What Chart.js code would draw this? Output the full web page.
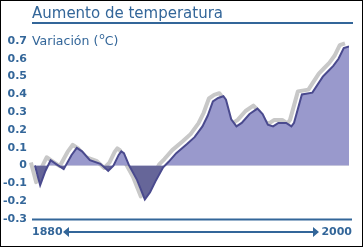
<!DOCTYPE html>
<html>
<head>
<meta charset="utf-8">
<script src="https://cdn.jsdelivr.net/npm/chart.js@4.4.1/dist/chart.umd.min.js"></script>
<style>
  html, body { margin: 0; padding: 0; background: #fff; }
  canvas { display: block; }
</style>
</head>
<body>
<canvas id="tempChart" width="363" height="247"></canvas>
<script>
// Temperature anomaly
const years = [1880, 1882, 1884, 1886, 1888, 1891, 1894, 1896, 1898, 1901, 1905, 1908, 1910, 1912, 1913, 1914,
  1916, 1919, 1922, 1924, 1926, 1929, 1931, 1934, 1938, 1941, 1944, 1946, 1948, 1950, 1952, 1953,
  1955, 1957, 1959, 1962, 1965, 1967, 1969, 1971, 1973, 1976, 1978, 1979, 1982, 1986, 1990, 1992,
  1994, 1996, 1998, 2000];
const anomaly = [0.00, -0.11, -0.03, 0.03, 0.01, -0.02, 0.06, 0.10, 0.08, 0.03, 0.01, -0.03, 0.00, 0.06, 0.08, 0.07,
  0.00, -0.08, -0.19, -0.15, -0.09, -0.01, 0.02, 0.07, 0.12, 0.16, 0.22, 0.28, 0.36, 0.38, 0.39, 0.37,
  0.26, 0.22, 0.24, 0.29, 0.32, 0.29, 0.23, 0.22, 0.24, 0.24, 0.22, 0.24, 0.40, 0.41, 0.50, 0.53,
  0.56, 0.60, 0.66, 0.67];
const yTicks = [-0.3, -0.2, -0.1, 0, 0.1, 0.2, 0.3, 0.4, 0.5, 0.6, 0.7];
const title = "Aumento de temperatura";
const yTitle = ["Variación (", "o", "C)"];
const rangeLabels = ["1880", "2000"];

const blue = "#336699";
const font = "DejaVu Sans";

// grey offset copy of the line, drawn under the fill
const shadow = {
  id: "shadow",
  beforeDatasetsDraw(chart) {
    const c = chart.ctx;
    const pts = chart.getDatasetMeta(0).data;
    c.save();
    c.translate(-4, -3);
    c.strokeStyle = "#c8c8c8";
    c.lineWidth = 4;
    c.lineJoin = "round";
    c.beginPath();
    pts.forEach((p, i) => (i ? c.lineTo(p.x, p.y) : c.moveTo(p.x, p.y)));
    c.stroke();
    c.restore();
  }
};

const decor = {
  id: "decor",
  afterDraw(chart) {
    const c = chart.ctx;
    const y = chart.scales.y;
    c.save();
    // frame
    c.strokeStyle = "#000";
    c.lineWidth = 1;
    c.strokeRect(0.5, 0.5, chart.width - 1, chart.height - 1);

    // title + underline
    c.fillStyle = blue;
    c.font = "15px '" + font + "'";
    c.textBaseline = "alphabetic";
    c.fillText(title, 32, 18);
    c.strokeStyle = blue;
    c.lineWidth = 2;
    c.beginPath();
    c.moveTo(32, 23);
    c.lineTo(353, 23);
    c.stroke();

    // axis title with superscript
    c.font = "12.5px '" + font + "'";
    let x = 32;
    c.fillText(yTitle[0], x, 45);
    x += c.measureText(yTitle[0]).width + 1;
    c.font = "9px '" + font + "'";
    c.fillText(yTitle[1], x, 39);
    x += c.measureText(yTitle[1]).width;
    c.font = "12.5px '" + font + "'";
    c.fillText(yTitle[2], x, 45);

    // bottom rule at the axis minimum
    const by = Math.round(y.getPixelForValue(y.min)) + 0.5;
    c.beginPath();
    c.moveTo(32, by);
    c.lineTo(352, by);
    c.stroke();

    // year range with double arrow
    const ay = 232;
    c.font = "bold 11px '" + font + "'";
    c.textBaseline = "middle";
    c.textAlign = "left";
    c.fillText(rangeLabels[0], 32, ay);
    c.textAlign = "right";
    c.fillText(rangeLabels[1], 352, ay);
    c.lineWidth = 2;
    c.beginPath();
    c.moveTo(66, ay);
    c.lineTo(316, ay);
    c.stroke();
    c.beginPath();
    c.moveTo(63, ay);
    c.lineTo(69, ay - 5);
    c.lineTo(69, ay + 5);
    c.closePath();
    c.moveTo(319, ay);
    c.lineTo(313, ay - 5);
    c.lineTo(313, ay + 5);
    c.closePath();
    c.fill();
    c.restore();
  }
};

new Chart(document.getElementById("tempChart"), {
  type: "line",
  data: {
    datasets: [{
      data: years.map((yr, i) => ({ x: yr, y: anomaly[i] })),
      borderColor: "#4a4a8e",
      borderWidth: 2,
      pointRadius: 0,
      tension: 0,
      fill: { target: "origin", above: "#9999cc", below: "#666699" }
    }]
  },
  options: {
    responsive: false,
    animation: false,
    devicePixelRatio: 1,
    layout: { padding: { top: 41, bottom: 28, left: 0, right: 14 } },
    plugins: { legend: { display: false }, tooltip: { enabled: false } },
    scales: {
      x: { type: "linear", min: 1878.5, max: 2000, display: false },
      y: {
        min: yTicks[0],
        max: yTicks[yTicks.length - 1],
        afterFit: (s) => { s.width = 31; },
        afterBuildTicks: (s) => { s.ticks = yTicks.map((v) => ({ value: v })); },
        grid: { display: false, drawTicks: false },
        border: { display: false },
        ticks: {
          padding: 4,
          color: blue,
          font: { family: font, size: 11, weight: "bold" },
          callback: (v) => (v === 0 ? "0" : v.toFixed(1))
        }
      }
    }
  },
  plugins: [shadow, decor]
});
</script>
</body>
</html>
